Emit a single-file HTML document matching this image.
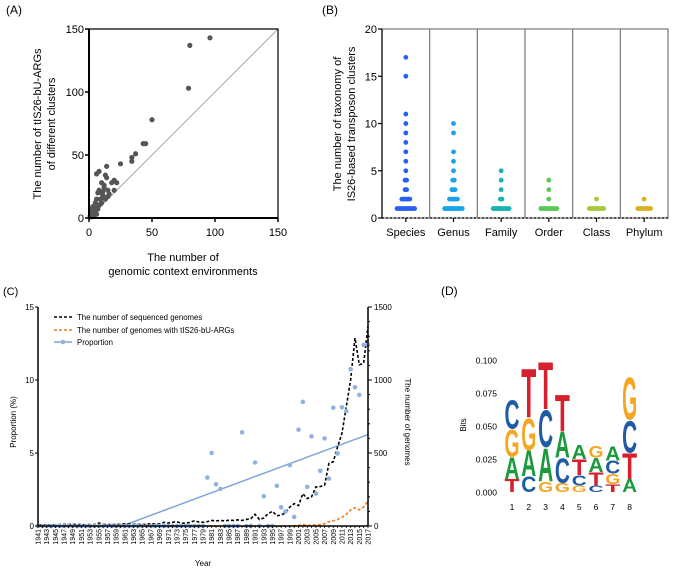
<!DOCTYPE html>
<html><head><meta charset="utf-8"><style>
html,body{margin:0;padding:0;background:#fff;}
svg{display:block;font-family:"Liberation Sans",Arial,sans-serif;}
</style></head><body>
<svg id="fig" width="683" height="570" viewBox="0 0 683 570" xmlns="http://www.w3.org/2000/svg">
<g id="pa"></g>
<g id="pb"></g>
<g id="pc"></g>
<g id="pd"></g>
</svg>
<script>
// ---------- Panel A data ----------
const aX = [96,80,79,50,43,45,37,34,34,25,14,8,6,13,14,20,22,18,10,12,8,20,10,15,7,11,6,9,12,5,4,3,2,1,2,5,6,8,10,3,7,9,13,15,4,1,16,12,11,2,4,6];
const aY = [143,137,103,78,59,59,51,48,45,43,41,37,35,34,32,30,28,28,28,26,22,22,20,22,20,18,15,15,16,12,8,5,3,2,7,5,8,10,12,9,7,11,15,17,4,1,19,24,21,1,2,3];
const aTicks = [0,50,100,150];
// ---------- Panel B data ----------
const bCats = ["Species","Genus","Family","Order","Class","Phylum"];
const bVals = [[17,15,11,10,9,8,7,6,5,4,3,2,1],[10,9,7,6,5,4,3,2,1],[5,4,3,2,1],[4,3,2,1],[2,1],[2,1]];
const bCounts = [[1,1,1,1,1,1,1,1,1,2,2,6,12],[1,1,1,1,1,2,3,6,12],[1,1,1,2,11],[1,1,1,11],[1,10],[1,9]];
const bTicks = [0,5,10,15,20];
// ---------- Panel C data ----------
const cYears = []; for (let y=1941;y<=2017;y++) cYears.push(y);
const cPropYears = [1980,1981,1982,1983,1988,1991,1993,1996,1997,1998,1999,2000,2001,2002,2003,2004,2005,2006,2007,2008,2009,2010,2011,2012,2013,2014,2015,2016,2017];
const cPropVals  = [3.32,5.0,2.86,2.54,6.41,4.35,2.04,2.75,1.28,1.0,4.17,0.62,6.6,8.5,2.68,6.14,2.22,3.78,6.0,3.25,8.1,4.97,8.13,7.88,10.74,9.5,8.98,12.4,12.4];
const cSeq = [8,8,6,8,8,10,12,10,12,10,10,8,10,10,20,12,10,10,10,12,15,15,12,12,10,12,15,14,15,25,20,25,28,20,18,25,35,28,25,30,38,35,38,35,40,38,42,38,45,50,80,44,55,85,100,70,75,90,130,153,140,222,188,200,268,270,280,428,440,543,634,818,1000,1287,1104,1115,1367];
const cArg = [0,0,0,0,0,0,0,0,0,0,0,0,0,0,0,0,0,0,0,0,0,0,0,0,0,0,0,0,0,0,0,0,0,0,0,0,0,0,0,0,0,0,0,0,0,0,0,0,0,0,0,0,0,0,0,0,0,0,0,2,5,10,5,5,8,10,15,30,35,45,60,80,110,125,110,130,170];
const cLeftTicks = [0,5,10,15];
const cRightTicks = [0,500,1000,1500];
// ---------- Panel D data ----------
const dLetters = [["T","A","G","C"],["C","A","G","T"],["G","A","C","T"],["G","C","A","T"],["G","C","T","A"],["C","T","A","G"],["T","G","C","A"],["A","T","C","G"]];
const dHeights = [[0.010,0.017,0.021,0.022],[0.012,0.020,0.025,0.038],[0.008,0.026,0.029,0.037],[0.007,0.019,0.020,0.029],[0.005,0.008,0.012,0.011],[0.005,0.010,0.011,0.009],[0.006,0.008,0.010,0.011],[0.010,0.020,0.025,0.033]];
const dTicks = [0,0.025,0.05,0.075,0.1];

const NS="http://www.w3.org/2000/svg";
function mk(parent,tag,attrs,text){const e=document.createElementNS(NS,tag);for(const k in attrs)e.setAttribute(k,attrs[k]);if(text!==undefined)e.textContent=text;parent.appendChild(e);return e;}

// ===== Panel A =====
(function(){
const g=document.getElementById('pa');
const x0=89,x1=278,y0=218,y1=29;
const sx=v=>x0+(v/150)*(x1-x0), sy=v=>y0-(v/150)*(y0-y1);
let t=mk(g,'text',{x:6,y:14,'font-size':12});t.textContent='(A)';


let l=mk(g,'line',{x1:sx(0),y1:sy(0),x2:sx(150),y2:sy(150),stroke:'#aaa','stroke-width':1});


aX.forEach((v,i)=>{const c=mk(g,'circle',{cx:sx(v),cy:sy(aY[i]),r:2.6,fill:'#555'});

});
mk(g,'path',{d:`M${x0},${y1} V${y0} H${x1}`,stroke:'#000','stroke-width':2,fill:'none'});
mk(g,'path',{d:`M${x0},${y1} H${x1} V${y0}`,stroke:'#000','stroke-width':1.2,fill:'none'});
aTicks.forEach(v=>{
 mk(g,'line',{x1:x0-4,x2:x0,y1:sy(v),y2:sy(v),stroke:'#000','stroke-width':1.5});
 const a=mk(g,'text',{x:x0-5,y:sy(v)+4,'font-size':11,'text-anchor':'end'},v);
 
 
 mk(g,'line',{x1:sx(v),x2:sx(v),y1:y0,y2:y0+4,stroke:'#000','stroke-width':1.5});
 const b=mk(g,'text',{x:sx(v),y:y0+18,'font-size':11,'text-anchor':'middle'},v);
 
 
});
let xt=mk(g,'text',{x:183,y:261,'font-size':11,'text-anchor':'middle'});


mk(xt,'tspan',{x:183},'The number of');mk(xt,'tspan',{x:183,dy:14},'genomic context environments');
let yt=mk(g,'text',{transform:'translate(41,124) rotate(-90)','font-size':11,'text-anchor':'middle'});


mk(yt,'tspan',{x:0},'The number of tIS26-bU-ARGs');mk(yt,'tspan',{x:0,dy:14},'of different clusters');
})();

// ===== Panel B =====
(function(){
const g=document.getElementById('pb');
const x0=382,x1=668,y0=218,y1=29;
const sy=v=>y0-(v/20)*(y0-y1);
const cw=(x1-x0)/6, cx=i=>x0+cw*(i+0.5);
const cols=['#2a5ff0','#1aa3e8','#17b3b0','#5cc85a','#a6c83a','#d9b21f'];
let t=mk(g,'text',{x:322,y:14,'font-size':12},'(B)');


mk(g,'rect',{x:x0,y:y1,width:x1-x0,height:y0-y1,fill:'none',stroke:'#777','stroke-width':1.2});
for(let i=1;i<6;i++) mk(g,'line',{x1:x0+cw*i,x2:x0+cw*i,y1:y1,y2:y0,stroke:'#777','stroke-width':1.2});
mk(g,'line',{x1:x0,x2:x1,y1:y0,y2:y0,stroke:'#000','stroke-width':1.2,'stroke-dasharray':'2,2'});
mk(g,'line',{x1:x0,x2:x0,y1:y1,y2:y0,stroke:'#000','stroke-width':1.2});
bTicks.forEach(v=>{
 mk(g,'line',{x1:x0-4,x2:x0,y1:sy(v),y2:sy(v),stroke:'#000','stroke-width':1.2});
 const a=mk(g,'text',{x:x0-5,y:sy(v)+4,'font-size':11,'text-anchor':'end'},v);
 
 
});
bCats.forEach((c,i)=>{
 mk(g,'line',{x1:cx(i),x2:cx(i),y1:y0,y2:y0+4,stroke:'#000','stroke-width':1.2});
 const a=mk(g,'text',{x:cx(i),y:y0+18,'font-size':11,'text-anchor':'middle'},c);
 
 
 bVals[i].forEach((v,j)=>{
  const n=bCounts[i][j];
  for(let k=0;k<n;k++){
   const dx=(k-(n-1)/2)*1.6;
   const d=mk(g,'circle',{cx:cx(i)+dx,cy:sy(v),r:2.4,fill:cols[i]});
   
   
  }
 });
});
let yt=mk(g,'text',{transform:'translate(341,124) rotate(-90)','font-size':11,'text-anchor':'middle'});


mk(yt,'tspan',{x:0},'The number of taxonomy of');mk(yt,'tspan',{x:0,dy:14},'IS26-based  transposon clusters');
})();

// ===== Panel C =====
(function(){
const g=document.getElementById('pc');
const x0=38,x1=368,y0=526,y1=307;
const sx=yr=>x0+(yr-1941)/76*(x1-x0);
const syL=v=>y0-(v/15)*(y0-y1), syR=v=>y0-(v/1500)*(y0-y1);
let t=mk(g,'text',{x:3,y:295,'font-size':11},'(C)');


const n=cYears.length; const pv=cYears.map(y=>{const k=cPropYears.indexOf(y);return k<0?0:cPropVals[k];});
let mx=0,my=0;cYears.forEach((y,i)=>{mx+=y;my+=pv[i];});mx/=n;my/=n;
let sxy=0,sxx=0;cYears.forEach((y,i)=>{sxy+=(y-mx)*(pv[i]-my);sxx+=(y-mx)*(y-mx);});
const slope=sxy/sxx, icpt=my-slope*mx;
const yStart=Math.max(1941,-icpt/slope);
let rl=mk(g,'line',{x1:sx(yStart),y1:syL(0),x2:sx(2017),y2:syL(slope*2017+icpt),stroke:'#7fa6d8','stroke-width':1.5});


let p1=mk(g,'polyline',{points:cYears.map((y,i)=>sx(y)+','+syR(cSeq[i])).join(' '),fill:'none',stroke:'#000','stroke-width':1.6,'stroke-dasharray':'3,2'});


let p2=mk(g,'polyline',{points:cYears.map((y,i)=>sx(y)+','+syR(cArg[i])).join(' '),fill:'none',stroke:'#f07f1a','stroke-width':1.6,'stroke-dasharray':'3,2'});


cYears.forEach((y,i)=>{const d=mk(g,'circle',{cx:sx(y),cy:syL(pv[i]),r:2.3,fill:'#92b2de'});

});
mk(g,'line',{x1:x0,x2:x0,y1:y1,y2:y0,stroke:'#000','stroke-width':1.5});
mk(g,'line',{x1:x1,x2:x1,y1:y1,y2:y0,stroke:'#000','stroke-width':1.5});
mk(g,'line',{x1:x0,x2:x1,y1:y0,y2:y0,stroke:'#000','stroke-width':1.5});
cLeftTicks.forEach(v=>{mk(g,'line',{x1:x0-3,x2:x0,y1:syL(v),y2:syL(v),stroke:'#000'});
 const a=mk(g,'text',{x:x0-4,y:syL(v)+3,'font-size':8,'text-anchor':'end'},v);
 
 });
for(let v=0;v<=1500;v+=100) mk(g,'line',{x1:x1,x2:x1+(v%500?2:4),y1:syR(v),y2:syR(v),stroke:'#000'});
cRightTicks.forEach(v=>{const a=mk(g,'text',{x:x1+6,y:syR(v)+3,'font-size':8},v);
 
 });
cYears.forEach(y=>{mk(g,'line',{x1:sx(y),x2:sx(y),y1:y0,y2:y0+2,stroke:'#000','stroke-width':0.8});
 if(y%2===1){const a=mk(g,'text',{transform:`translate(${sx(y)+2.5},${y0+3}) rotate(-90)`,'font-size':7,'text-anchor':'end'},y);
 
 }});
let xt=mk(g,'text',{x:203,y:566,'font-size':8,'text-anchor':'middle'},'Year');


let yl=mk(g,'text',{transform:'translate(16,422) rotate(-90)','font-size':8,'text-anchor':'middle'},'Proportion (%)');


let yr=mk(g,'text',{transform:'translate(405,422) rotate(90)','font-size':8,'text-anchor':'middle'},'The number of genomes');


const lg=mk(g,'g',{});


mk(lg,'line',{x1:54,x2:72,y1:317,y2:317,stroke:'#000','stroke-width':1.6,'stroke-dasharray':'3,2'});
mk(lg,'text',{x:77,y:320,'font-size':7.8},'The number of sequenced genomes');
mk(lg,'line',{x1:54,x2:72,y1:330,y2:330,stroke:'#f07f1a','stroke-width':1.6,'stroke-dasharray':'3,2'});
mk(lg,'text',{x:77,y:333,'font-size':7.8},'The number of genomes with tIS26-bU-ARGs');
mk(lg,'line',{x1:54,x2:72,y1:342,y2:342,stroke:'#7fa6d8','stroke-width':1.5});
mk(lg,'circle',{cx:63,cy:342,r:2.3,fill:'#92b2de'});
mk(lg,'text',{x:77,y:345,'font-size':7.8},'Proportion');
})();

// ===== Panel D =====
(function(){
const g=document.getElementById('pd');
const y0=492,y1=360, sy=v=>y0-(v/0.1)*(y0-y1);
const px=i=>512+i*16.8;
const col={A:'#1b9a3c',C:'#1f5ba6',G:'#f5a623',T:'#d7202c'};
let t=mk(g,'text',{x:441,y:295,'font-size':12},'(D)');


dTicks.forEach(v=>{const a=mk(g,'text',{x:497,y:sy(v)+3.5,'font-size':8.5,'text-anchor':'end'},v.toFixed(3));
 
 });
let bl=mk(g,'text',{transform:'translate(466,425) rotate(-90)','font-size':8,'text-anchor':'middle'},'Bits');


dLetters.forEach((stack,i)=>{
 let cum=0;
 stack.forEach((L,j)=>{
  const h=dHeights[i][j]; const yb=sy(cum); const hp=sy(0)-sy(h); cum+=h;
  const tx=mk(g,'text',{transform:`translate(${px(i)-7.5},${yb}) scale(1,${hp/72})`,'font-size':100,'font-weight':'bold',fill:col[L],textLength:15,lengthAdjust:'spacingAndGlyphs'},L);
  
  
 });
 const a=mk(g,'text',{x:px(i),y:510,'font-size':8.5,'text-anchor':'middle'},i+1);
 
 
});
})();
</script>
</body></html>
